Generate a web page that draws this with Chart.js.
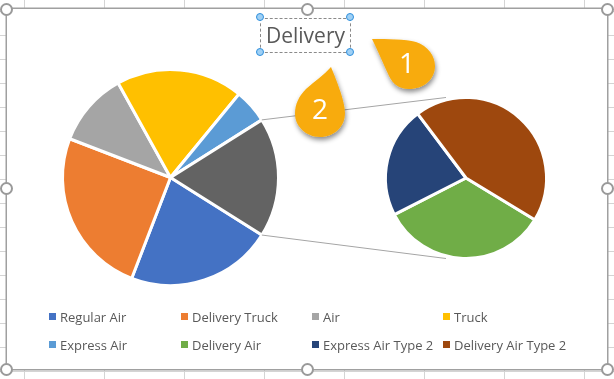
<!DOCTYPE html>
<html>
<head>
<meta charset="utf-8">
<script src="https://cdn.jsdelivr.net/npm/chart.js@4"></script>
<style>
html, body { margin: 0; padding: 0; }
body {
    width: 614px; height: 379px; position: relative; overflow: hidden; background: #fff;
    font-family: "Open Sans", sans-serif;
    background-image:
        repeating-linear-gradient(to right, #d4d4d4 0 1px, transparent 1px 80px),
        repeating-linear-gradient(to bottom, #d4d4d4 0 1px, transparent 1px 24px);
    background-position: 24px 0, 0 11px;
}
#frame { position: absolute; left: 6px; top: 8px; width: 600px; height: 360px; background: #fff; border: 1px solid #a0a0a0; box-shadow: 0 0 0 .5px #a0a0a0; }
canvas { position: absolute; }
#leftPie { left: 0; top: 0; }
#rightPie { left: 376px; top: 88px; }
#title { position: absolute; left: 260px; top: 18px; width: 89px; height: 33px; border: 1px dashed #8a8a8a; text-align: center; font-size: 21px; line-height: 33px; color: #595959; }
.dot { position: absolute; width: 6px; height: 6px; border-radius: 50%; background: #9fd0f5; border: 1px solid #2f8fdc; }
.ring { position: absolute; width: 9px; height: 9px; border-radius: 50%; background: #fff; border: 2px solid #9a9a9a; }
.item { position: absolute; font-size: 13px; color: #595959; line-height: 16px; white-space: nowrap; }
.item i { position: absolute; left: -11px; top: 4px; width: 7px; height: 7px; }
svg { position: absolute; left: 0; top: 0; }
svg text { font-family: "Open Sans", sans-serif; font-size: 28px; fill: #fff; text-anchor: middle; }
</style>
</head>
<body>
<div id="frame"></div>
<canvas id="leftPie" width="614" height="379"></canvas>
<canvas id="rightPie" width="180" height="180"></canvas>
<div id="title">Delivery</div>
<div id="legend"></div>
<div id="marks"></div>
<svg width="614" height="379">
    <defs>
        <filter id="drop" x="-30%" y="-30%" width="170%" height="170%">
            <feDropShadow dx="1" dy="3" stdDeviation="2.5" flood-color="#000" flood-opacity="0.45"/>
        </filter>
    </defs>
    <path d="M372 39 C388 39 405 39 416 42 C428 46 435 56 435 66 C435 80 423 89 409 89 C399 89 393 84 389 76 C383 63 378 51 372 39 Z" fill="#F8AB0C" filter="url(#drop)"/>
    <text x="407" y="73">1</text>
    <path d="M331 67 C335 77 345 100 345 113 C345 127 334 137 320 137 C306 137 295 126 295 114 C295 104 299 96 306 89 C315 81 324 75 331 67 Z" fill="#F8AB0C" filter="url(#drop)"/>
    <text x="320" y="119">2</text>
</svg>
<script>
// values, the 6th slice on the left is the one split out on the right
let leftLabels = ['Regular Air', 'Delivery Truck', 'Air', 'Truck', 'Express Air', 'Other']
let leftValues = [21.9, 25.0, 11.1, 19.0, 5.1, 17.9]
let leftColors = ['#4472C4', '#ED7D31', '#A5A5A5', '#FFC000', '#5B9BD5', '#636363']

let rightLabels = ['Delivery Air', 'Express Air Type 2', 'Delivery Air Type 2']
let rightValues = [6.05, 3.98, 7.87]
let rightColors = ['#70AD47', '#264478', '#9E480E']

let legendLabels = ['Regular Air', 'Delivery Truck', 'Air', 'Truck', 'Express Air', 'Delivery Air', 'Express Air Type 2', 'Delivery Air Type 2']
let legendColors = ['#4472C4', '#ED7D31', '#A5A5A5', '#FFC000', '#5B9BD5', '#70AD47', '#264478', '#9E480E']

const legendCols = [60, 192, 323, 454]
const legendRows = [309, 337]

const pieOptions = (rotation, padding) => ({
    responsive: false,
    animation: false,
    events: [],
    rotation,
    layout: { padding },
    plugins: { legend: { display: false }, tooltip: { enabled: false } }
})

let rightChart = new Chart(document.getElementById('rightPie'), {
    type: 'pie',
    data: {
        labels: rightLabels,
        datasets: [{ data: rightValues, backgroundColor: rightColors, borderColor: '#fff', borderWidth: 3 }]
    },
    options: pieOptions(121.3, 8)
})

// series lines between the split slice and the top/bottom of the second pie
const seriesLines = {
    id: 'seriesLines',
    afterDatasetsDraw(chart) {
        let other = chart.getDatasetMeta(0).data[5]
        let small = rightChart.getDatasetMeta(0).data[0]
        let canvasBox = rightChart.canvas
        let cx = small.x + canvasBox.offsetLeft
        let cy = small.y + canvasBox.offsetTop
        let r = small.outerRadius
        let ctx = chart.ctx
        ctx.save()
        ctx.strokeStyle = '#a5a5a5'
        ctx.lineWidth = 1
        ctx.beginPath()
        ctx.moveTo(other.x + Math.cos(other.startAngle) * other.outerRadius, other.y + Math.sin(other.startAngle) * other.outerRadius)
        ctx.lineTo(cx - 20, cy - r)
        ctx.moveTo(other.x + Math.cos(other.endAngle) * other.outerRadius, other.y + Math.sin(other.endAngle) * other.outerRadius)
        ctx.lineTo(cx - 20, cy + r)
        ctx.stroke()
        ctx.restore()
    }
}

let leftChart = new Chart(document.getElementById('leftPie'), {
    type: 'pie',
    data: {
        labels: leftLabels,
        datasets: [{ data: leftValues, backgroundColor: leftColors, borderColor: '#fff', borderWidth: 3 }]
    },
    options: pieOptions(122.2, { left: 61, right: 334, top: 68, bottom: 92 }),
    plugins: [seriesLines]
})

// legend
let legendArea = document.getElementById('legend')
legendLabels.forEach((label, i) => {
    let item = document.createElement('div')
    item.className = 'item'
    item.style.left = legendCols[i % 4] + 'px'
    item.style.top = legendRows[Math.floor(i / 4)] + 'px'
    item.innerHTML = '<i style="background:' + legendColors[i] + '"></i>' + label
    legendArea.appendChild(item)
})

// selection handles
let marks = document.getElementById('marks')
function addMark(cls, x, y, half) {
    let m = document.createElement('div')
    m.className = cls
    m.style.left = (x - half) + 'px'
    m.style.top = (y - half) + 'px'
    marks.appendChild(m)
}
[[260, 17], [350, 17], [260, 52], [350, 52]].forEach(p => addMark('dot', p[0], p[1], 4));
[[6, 9], [307, 9], [607, 9], [6, 188], [607, 188], [6, 369], [307, 369], [607, 369]].forEach(p => addMark('ring', p[0], p[1], 6));
</script>
</body>
</html>
